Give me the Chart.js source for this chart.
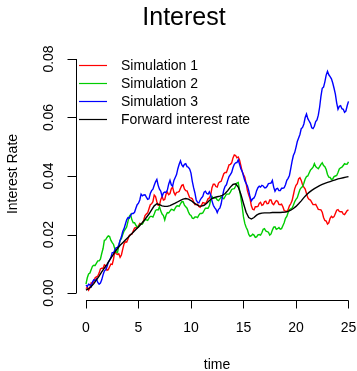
<!DOCTYPE html>
<html>
<head>
<meta charset="utf-8">
<script src="https://cdn.jsdelivr.net/npm/chart.js@4.4.1/dist/chart.umd.min.js"></script>
<style>
  html, body { margin: 0; padding: 0; background: #fff; overflow: hidden; }
  #chart { display: block; }
</style>
</head>
<body>
<canvas id="chart" width="357" height="371"></canvas>
<script>
// Simulation time grid (years)
const simTime = [
  0, 0.125, 0.25, 0.375, 0.5, 0.625, 0.75, 0.875, 1, 1.125, 1.25, 1.375, 1.5, 1.625, 1.75, 1.875,
  2, 2.125, 2.25, 2.375, 2.5, 2.625, 2.75, 2.875, 3, 3.125, 3.25, 3.375, 3.5, 3.625, 3.75, 3.875,
  4, 4.125, 4.25, 4.375, 4.5, 4.625, 4.75, 4.875, 5, 5.125, 5.25, 5.375, 5.5, 5.625, 5.75, 5.875,
  6, 6.125, 6.25, 6.375, 6.5, 6.625, 6.75, 6.875, 7, 7.125, 7.25, 7.375, 7.5, 7.625, 7.75, 7.875,
  8, 8.125, 8.25, 8.375, 8.5, 8.625, 8.75, 8.875, 9, 9.125, 9.25, 9.375, 9.5, 9.625, 9.75, 9.875,
  10, 10.125, 10.25, 10.375, 10.5, 10.625, 10.75, 10.875, 11, 11.125, 11.25, 11.375, 11.5, 11.625, 11.75, 11.875,
  12, 12.125, 12.25, 12.375, 12.5, 12.625, 12.75, 12.875, 13, 13.125, 13.25, 13.375, 13.5, 13.625, 13.75, 13.875,
  14, 14.125, 14.25, 14.375, 14.5, 14.625, 14.75, 14.875, 15, 15.125, 15.25, 15.375, 15.5, 15.625, 15.75, 15.875,
  16, 16.125, 16.25, 16.375, 16.5, 16.625, 16.75, 16.875, 17, 17.125, 17.25, 17.375, 17.5, 17.625, 17.75, 17.875,
  18, 18.125, 18.25, 18.375, 18.5, 18.625, 18.75, 18.875, 19, 19.125, 19.25, 19.375, 19.5, 19.625, 19.75, 19.875,
  20, 20.125, 20.25, 20.375, 20.5, 20.625, 20.75, 20.875, 21, 21.125, 21.25, 21.375, 21.5, 21.625, 21.75, 21.875,
  22, 22.125, 22.25, 22.375, 22.5, 22.625, 22.75, 22.875, 23, 23.125, 23.25, 23.375, 23.5, 23.625, 23.75, 23.875,
  24, 24.125, 24.25, 24.375, 24.5, 24.625, 24.75, 24.875, 25
];

// Forward curve time grid (years)
const fwdTime = [
  0, 0.25, 0.5, 0.75, 1, 1.25, 1.5, 1.75, 2, 2.25, 2.5, 2.75, 3, 3.25, 3.5, 3.75,
  4, 4.25, 4.5, 4.75, 5, 5.25, 5.5, 5.75, 6, 6.25, 6.5, 6.75, 7, 7.25, 7.5, 7.75,
  8, 8.25, 8.5, 8.75, 9, 9.25, 9.5, 9.75, 10, 10.25, 10.5, 10.75, 11, 11.25, 11.5, 11.75,
  12, 12.25, 12.5, 12.75, 13, 13.25, 13.5, 13.75, 14, 14.25, 14.5, 14.75, 15, 15.25, 15.5, 15.75,
  16, 16.25, 16.5, 16.75, 17, 17.25, 17.5, 17.75, 18, 18.25, 18.5, 18.75, 19, 19.25, 19.5, 19.75,
  20, 20.25, 20.5, 20.75, 21, 21.25, 21.5, 21.75, 22, 22.25, 22.5, 22.75, 23, 23.25, 23.5, 23.75,
  24, 24.25, 24.5, 24.75, 25
];

const sim1 = [
  0.0015, 0.0020, 0.0010, 0.0018, 0.0035, 0.0032, 0.0040, 0.0052, 0.0055, 0.0058, 0.0068, 0.0082, 0.0085, 0.0084, 0.0096, 0.0093,
  0.0078, 0.0080, 0.0090, 0.0099, 0.0098, 0.0116, 0.0145, 0.0134, 0.0132, 0.0134, 0.0122, 0.0130, 0.0150, 0.0168, 0.0175, 0.0174,
  0.0185, 0.0197, 0.0200, 0.0201, 0.0212, 0.0222, 0.0224, 0.0223, 0.0230, 0.0238, 0.0236, 0.0238, 0.0250, 0.0265, 0.0270, 0.0274,
  0.0288, 0.0302, 0.0305, 0.0312, 0.0335, 0.0330, 0.0312, 0.0300, 0.0300, 0.0320, 0.0330, 0.0318, 0.0320, 0.0338, 0.0345, 0.0336,
  0.0340, 0.0356, 0.0362, 0.0344, 0.0335, 0.0344, 0.0345, 0.0347, 0.0358, 0.0368, 0.0370, 0.0356, 0.0350, 0.0349, 0.0338, 0.0326,
  0.0325, 0.0322, 0.0312, 0.0302, 0.0302, 0.0304, 0.0296, 0.0293, 0.0300, 0.0309, 0.0308, 0.0305, 0.0312, 0.0322, 0.0325, 0.0335,
  0.0360, 0.0372, 0.0372, 0.0364, 0.0362, 0.0376, 0.0380, 0.0382, 0.0395, 0.0408, 0.0412, 0.0412, 0.0425, 0.0438, 0.0440, 0.0445,
  0.0462, 0.0472, 0.0470, 0.0462, 0.0465, 0.0455, 0.0435, 0.0415, 0.0405, 0.0396, 0.0375, 0.0350, 0.0335, 0.0322, 0.0298, 0.0286,
  0.0284, 0.0295, 0.0295, 0.0296, 0.0306, 0.0310, 0.0300, 0.0302, 0.0312, 0.0314, 0.0305, 0.0306, 0.0318, 0.0318, 0.0306, 0.0302,
  0.0310, 0.0316, 0.0314, 0.0303, 0.0302, 0.0304, 0.0295, 0.0282, 0.0280, 0.0278, 0.0285, 0.0298, 0.0305, 0.0315, 0.0335, 0.0356,
  0.0368, 0.0374, 0.0390, 0.0394, 0.0385, 0.0370, 0.0362, 0.0355, 0.0340, 0.0326, 0.0320, 0.0318, 0.0310, 0.0302, 0.0302, 0.0303,
  0.0295, 0.0286, 0.0285, 0.0284, 0.0276, 0.0258, 0.0248, 0.0246, 0.0236, 0.0240, 0.0255, 0.0262, 0.0258, 0.0261, 0.0272, 0.0283,
  0.0285, 0.0279, 0.0278, 0.0278, 0.0270, 0.0268, 0.0275, 0.0282, 0.0284
];

const sim2 = [
  0.0030, 0.0052, 0.0065, 0.0068, 0.0080, 0.0092, 0.0095, 0.0094, 0.0102, 0.0110, 0.0110, 0.0116, 0.0135, 0.0152, 0.0180, 0.0182,
  0.0190, 0.0195, 0.0193, 0.0180, 0.0172, 0.0166, 0.0150, 0.0140, 0.0138, 0.0162, 0.0180, 0.0186, 0.0200, 0.0212, 0.0218, 0.0226,
  0.0245, 0.0262, 0.0268, 0.0250, 0.0240, 0.0240, 0.0232, 0.0225, 0.0226, 0.0234, 0.0236, 0.0236, 0.0245, 0.0251, 0.0250, 0.0248,
  0.0256, 0.0262, 0.0262, 0.0260, 0.0270, 0.0282, 0.0285, 0.0284, 0.0295, 0.0280, 0.0270, 0.0265, 0.0250, 0.0266, 0.0275, 0.0274,
  0.0280, 0.0286, 0.0285, 0.0282, 0.0290, 0.0297, 0.0298, 0.0296, 0.0305, 0.0312, 0.0312, 0.0300, 0.0295, 0.0290, 0.0278, 0.0268,
  0.0265, 0.0256, 0.0255, 0.0260, 0.0260, 0.0258, 0.0266, 0.0272, 0.0272, 0.0274, 0.0282, 0.0290, 0.0290, 0.0290, 0.0298, 0.0318,
  0.0330, 0.0324, 0.0325, 0.0325, 0.0318, 0.0316, 0.0322, 0.0328, 0.0325, 0.0322, 0.0330, 0.0338, 0.0338, 0.0338, 0.0345, 0.0354,
  0.0356, 0.0357, 0.0365, 0.0376, 0.0378, 0.0352, 0.0325, 0.0295, 0.0260, 0.0238, 0.0225, 0.0216, 0.0200, 0.0194, 0.0196, 0.0201,
  0.0198, 0.0190, 0.0192, 0.0199, 0.0200, 0.0198, 0.0206, 0.0218, 0.0220, 0.0212, 0.0210, 0.0208, 0.0198, 0.0202, 0.0215, 0.0225,
  0.0226, 0.0218, 0.0220, 0.0224, 0.0218, 0.0220, 0.0230, 0.0240, 0.0255, 0.0262, 0.0275, 0.0285, 0.0288, 0.0290, 0.0300, 0.0312,
  0.0320, 0.0326, 0.0340, 0.0354, 0.0360, 0.0364, 0.0375, 0.0390, 0.0398, 0.0400, 0.0410, 0.0420, 0.0425, 0.0430, 0.0442, 0.0432,
  0.0428, 0.0425, 0.0432, 0.0440, 0.0445, 0.0436, 0.0432, 0.0422, 0.0405, 0.0396, 0.0395, 0.0388, 0.0390, 0.0398, 0.0400, 0.0402,
  0.0412, 0.0424, 0.0428, 0.0430, 0.0436, 0.0442, 0.0440, 0.0441, 0.0448
];

const sim3 = [
  0.0027, 0.0022, 0.0030, 0.0028, 0.0022, 0.0038, 0.0045, 0.0042, 0.0048, 0.0036, 0.0030, 0.0034, 0.0045, 0.0062, 0.0075, 0.0080,
  0.0090, 0.0105, 0.0112, 0.0122, 0.0138, 0.0138, 0.0147, 0.0155, 0.0155, 0.0164, 0.0180, 0.0192, 0.0210, 0.0220, 0.0235, 0.0250,
  0.0258, 0.0256, 0.0265, 0.0272, 0.0272, 0.0276, 0.0290, 0.0302, 0.0307, 0.0318, 0.0338, 0.0332, 0.0335, 0.0336, 0.0328, 0.0320,
  0.0322, 0.0340, 0.0350, 0.0355, 0.0368, 0.0380, 0.0388, 0.0368, 0.0355, 0.0348, 0.0330, 0.0342, 0.0345, 0.0344, 0.0352, 0.0372,
  0.0385, 0.0370, 0.0365, 0.0385, 0.0395, 0.0405, 0.0425, 0.0440, 0.0452, 0.0438, 0.0432, 0.0440, 0.0442, 0.0432, 0.0430, 0.0424,
  0.0410, 0.0382, 0.0360, 0.0342, 0.0318, 0.0310, 0.0308, 0.0318, 0.0325, 0.0330, 0.0345, 0.0348, 0.0340, 0.0338, 0.0346, 0.0335,
  0.0315, 0.0300, 0.0292, 0.0286, 0.0275, 0.0286, 0.0290, 0.0305, 0.0330, 0.0352, 0.0365, 0.0370, 0.0385, 0.0398, 0.0405, 0.0412,
  0.0428, 0.0440, 0.0445, 0.0446, 0.0455, 0.0440, 0.0425, 0.0416, 0.0400, 0.0384, 0.0375, 0.0366, 0.0350, 0.0328, 0.0315, 0.0322,
  0.0325, 0.0334, 0.0350, 0.0360, 0.0365, 0.0362, 0.0368, 0.0366, 0.0360, 0.0360, 0.0365, 0.0374, 0.0375, 0.0376, 0.0385, 0.0362,
  0.0348, 0.0356, 0.0358, 0.0350, 0.0350, 0.0358, 0.0358, 0.0360, 0.0370, 0.0385, 0.0392, 0.0402, 0.0425, 0.0450, 0.0470, 0.0480,
  0.0498, 0.0518, 0.0530, 0.0542, 0.0562, 0.0566, 0.0578, 0.0600, 0.0612, 0.0596, 0.0588, 0.0580, 0.0565, 0.0562, 0.0570, 0.0586,
  0.0592, 0.0608, 0.0635, 0.0672, 0.0700, 0.0704, 0.0722, 0.0745, 0.0758, 0.0746, 0.0740, 0.0732, 0.0718, 0.0700, 0.0680, 0.0650,
  0.0628, 0.0638, 0.0640, 0.0630, 0.0628, 0.0618, 0.0622, 0.0640, 0.0655
];

const forward = [
  0.0010, 0.0015, 0.0022, 0.0032, 0.0045, 0.0058, 0.0072, 0.0085, 0.0098, 0.0112, 0.0126, 0.0140, 0.0152, 0.0163, 0.0172, 0.0181,
  0.0190, 0.0199, 0.0208, 0.0217, 0.0226, 0.0236, 0.0246, 0.0258, 0.0270, 0.0284, 0.0298, 0.0305, 0.0302, 0.0298, 0.0296, 0.0296,
  0.0299, 0.0303, 0.0307, 0.0312, 0.0317, 0.0321, 0.0323, 0.0321, 0.0316, 0.0309, 0.0303, 0.0298, 0.0297, 0.0300, 0.0307, 0.0316,
  0.0323, 0.0327, 0.0329, 0.0331, 0.0334, 0.0340, 0.0350, 0.0362, 0.0371, 0.0373, 0.0362, 0.0338, 0.0306, 0.0276, 0.0258, 0.0253,
  0.0258, 0.0266, 0.0271, 0.0273, 0.0274, 0.0274, 0.0274, 0.0275, 0.0275, 0.0275, 0.0275, 0.0276, 0.0277, 0.0279, 0.0283, 0.0289,
  0.0296, 0.0305, 0.0315, 0.0326, 0.0336, 0.0344, 0.0351, 0.0357, 0.0362, 0.0367, 0.0371, 0.0375, 0.0378, 0.0381, 0.0384, 0.0387,
  0.0390, 0.0392, 0.0394, 0.0396, 0.0398
];

const seriesNames = ['Simulation 1', 'Simulation 2', 'Simulation 3', 'Forward interest rate'];
const seriesColors = ['#FF0000', '#00CD00', '#0000FF', '#000000'];
const xTicks = [0, 5, 10, 15, 20, 25];
const yTicks = [0.00, 0.02, 0.04, 0.06, 0.08];
const yTickLabels = ['0.00', '0.02', '0.04', '0.06', '0.08'];

const FONT = '"Liberation Sans", Arial, Helvetica, sans-serif';

function toPoints(times, values) {
  return values.map((v, i) => ({ x: times[i], y: v }));
}

// R-style axes, titles and legend
const baseGraphics = {
  id: 'baseGraphics',
  afterDraw(chart) {
    const ctx = chart.ctx;
    const xs = chart.scales.x;
    const ys = chart.scales.y;
    ctx.save();
    ctx.strokeStyle = '#000';
    ctx.fillStyle = '#000';
    ctx.lineWidth = 1;

    // x axis
    const axY = 300.5;
    ctx.beginPath();
    ctx.moveTo(xs.getPixelForValue(xTicks[0]), axY);
    ctx.lineTo(xs.getPixelForValue(xTicks[xTicks.length - 1]), axY);
    xTicks.forEach(t => {
      const px = Math.round(xs.getPixelForValue(t)) + 0.5;
      ctx.moveTo(px, axY);
      ctx.lineTo(px, axY + 8);
    });
    ctx.stroke();
    ctx.font = '14px ' + FONT;
    ctx.textAlign = 'center';
    ctx.textBaseline = 'middle';
    xTicks.forEach(t => ctx.fillText(String(t), xs.getPixelForValue(t), 328));
    ctx.fillText('time', 217, 365);

    // y axis
    const axX = 76.5;
    ctx.beginPath();
    ctx.moveTo(axX, ys.getPixelForValue(yTicks[0]));
    ctx.lineTo(axX, ys.getPixelForValue(yTicks[yTicks.length - 1]));
    yTicks.forEach(v => {
      const py = Math.round(ys.getPixelForValue(v)) + 0.5;
      ctx.moveTo(axX, py);
      ctx.lineTo(axX - 9, py);
    });
    ctx.stroke();
    yTicks.forEach((v, i) => {
      ctx.save();
      ctx.translate(49, ys.getPixelForValue(v));
      ctx.rotate(-Math.PI / 2);
      ctx.fillText(yTickLabels[i], 0, 0);
      ctx.restore();
    });
    ctx.save();
    ctx.translate(13, 174);
    ctx.rotate(-Math.PI / 2);
    ctx.fillText('Interest Rate', 0, 0);
    ctx.restore();

    // title
    ctx.font = '25px ' + FONT;
    ctx.fillText('Interest', 184, 18);

    // legend
    ctx.font = '14px ' + FONT;
    ctx.textAlign = 'left';
    chart.data.datasets.forEach((ds, i) => {
      const ry = 65.5 + i * 18;
      ctx.strokeStyle = ds.borderColor;
      ctx.lineWidth = 1.2;
      ctx.beginPath();
      ctx.moveTo(79, ry);
      ctx.lineTo(107, ry);
      ctx.stroke();
      ctx.fillStyle = '#000';
      ctx.fillText(ds.label, 121, ry + 0.5);
    });
    ctx.restore();
  }
};

const allSeries = [
  toPoints(simTime, sim1),
  toPoints(simTime, sim2),
  toPoints(simTime, sim3),
  toPoints(fwdTime, forward)
];

new Chart(document.getElementById('chart').getContext('2d'), {
  type: 'line',
  data: {
    datasets: allSeries.map((pts, i) => ({
      label: seriesNames[i],
      data: pts,
      borderColor: seriesColors[i],
      backgroundColor: seriesColors[i],
      borderWidth: 1.4,
      pointRadius: 0,
      tension: 0,
      fill: false,
      order: allSeries.length - i
    }))
  },
  options: {
    responsive: false,
    animation: false,
    devicePixelRatio: 1,
    layout: { padding: { left: 76, top: 58, right: 0, bottom: 70.3 } },
    scales: {
      x: { type: 'linear', min: -0.95, max: 25.81, display: false },
      y: { type: 'linear', min: -0.00263, max: 0.08034, display: false }
    },
    plugins: {
      legend: { display: false },
      title: { display: false },
      tooltip: { enabled: false }
    },
    events: []
  },
  plugins: [baseGraphics]
});
</script>
</body>
</html>
